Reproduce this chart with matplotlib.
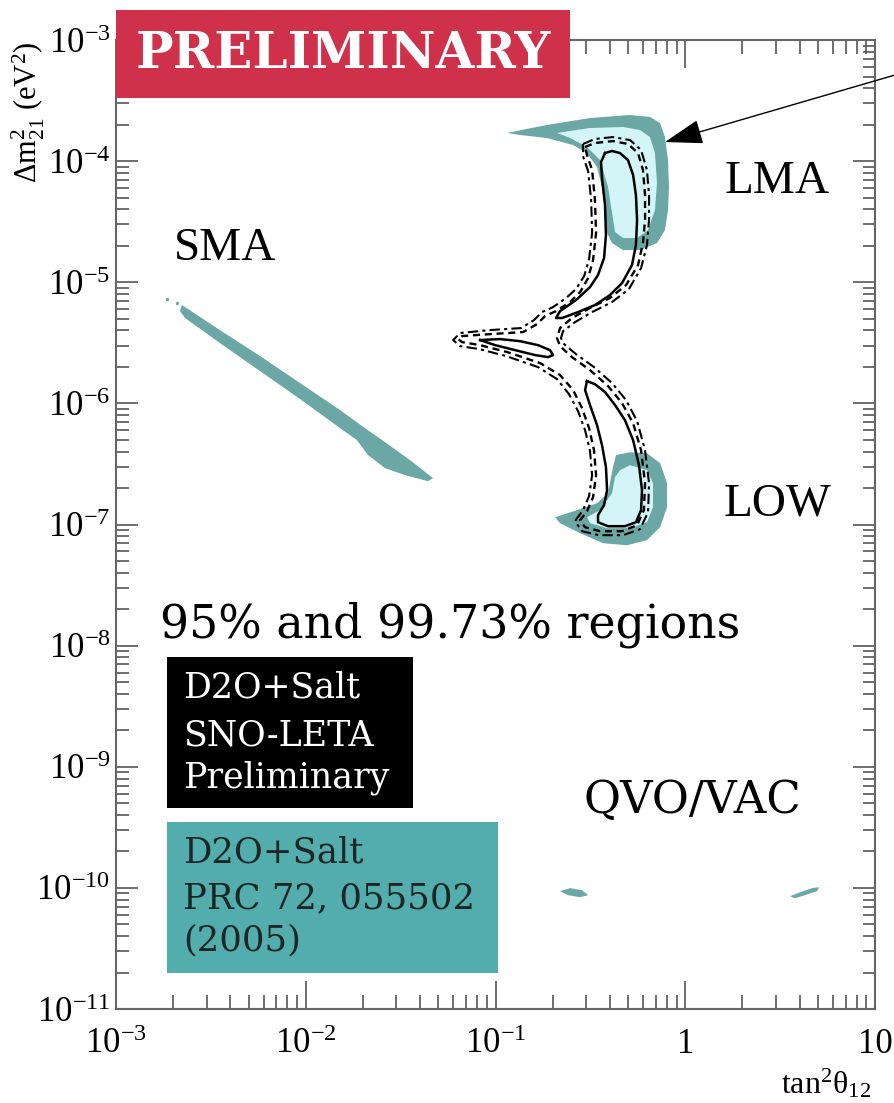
import numpy as np
import matplotlib
matplotlib.use('Agg')
import matplotlib.pyplot as plt
from matplotlib.patches import Rectangle
from matplotlib.ticker import LogLocator, FixedLocator, FixedFormatter, NullFormatter

plt.rcParams['font.family'] = ['Liberation Serif', 'DejaVu Serif']
plt.rcParams['mathtext.fontset'] = 'custom'
plt.rcParams['mathtext.rm'] = 'Liberation Serif'
plt.rcParams['mathtext.it'] = 'Liberation Serif:italic'
plt.rcParams['mathtext.bf'] = 'Liberation Serif:bold'

# axis ticks
x_ticks = [1e-3, 1e-2, 1e-1, 1, 10]
x_ticklabels = [r'$\mathregular{10^{-3}}$', r'$\mathregular{10^{-2}}$', r'$\mathregular{10^{-1}}$', '1', '10']
y_ticks = [1e-11, 1e-10, 1e-9, 1e-8, 1e-7, 1e-6, 1e-5, 1e-4, 1e-3]
y_ticklabels = [r'$\mathregular{10^{-11}}$', r'$\mathregular{10^{-10}}$', r'$\mathregular{10^{-9}}$',
                r'$\mathregular{10^{-8}}$', r'$\mathregular{10^{-7}}$', r'$\mathregular{10^{-6}}$',
                r'$\mathregular{10^{-5}}$', r'$\mathregular{10^{-4}}$', r'$\mathregular{10^{-3}}$']

# allowed regions, (log10 tan^2, log10 dm^2)
# D2O+Salt PRC 72 055502: 99.73% (dark) and 95% (light)
lma_outer = [(-0.939, -3.767), (-0.729, -3.701), (-0.502, -3.644), (-0.291, -3.619), (-0.186, -3.635),
             (-0.133, -3.685), (-0.107, -3.801), (-0.091, -3.991), (-0.086, -4.214), (-0.091, -4.404),
             (-0.107, -4.569), (-0.149, -4.676), (-0.239, -4.734), (-0.328, -4.734), (-0.386, -4.676),
             (-0.412, -4.593), (-0.423, -4.404), (-0.439, -4.214), (-0.465, -4.048), (-0.518, -3.933),
             (-0.591, -3.867), (-0.729, -3.809), (-0.871, -3.784)]
lma_inner = [(-0.676, -3.767), (-0.502, -3.726), (-0.328, -3.718), (-0.239, -3.743), (-0.186, -3.801),
             (-0.160, -3.933), (-0.149, -4.180), (-0.160, -4.404), (-0.196, -4.569), (-0.254, -4.635),
             (-0.328, -4.635), (-0.370, -4.585), (-0.386, -4.428), (-0.407, -4.214), (-0.449, -3.991),
             (-0.518, -3.883), (-0.607, -3.809)]
low_outer = [(-0.686, -6.940), (-0.570, -6.881), (-0.465, -6.824), (-0.407, -6.741), (-0.381, -6.526),
             (-0.365, -6.427), (-0.291, -6.403), (-0.202, -6.411), (-0.133, -6.493), (-0.096, -6.658),
             (-0.096, -6.857), (-0.133, -7.022), (-0.202, -7.129), (-0.307, -7.171), (-0.434, -7.154),
             (-0.554, -7.072), (-0.660, -6.989)]
low_inner = [(-0.344, -6.551), (-0.291, -6.510), (-0.202, -6.551), (-0.170, -6.658), (-0.170, -6.857),
             (-0.202, -6.981), (-0.291, -7.030), (-0.412, -7.030), (-0.502, -6.989), (-0.518, -6.940),
             (-0.449, -6.881), (-0.386, -6.741), (-0.370, -6.609)]
sma_region = [(-2.652, -5.188), (-2.452, -5.395), (-2.241, -5.609), (-2.030, -5.832), (-1.819, -6.055),
              (-1.688, -6.204), (-1.582, -6.320), (-1.451, -6.468), (-1.329, -6.617), (-1.356, -6.642),
              (-1.477, -6.592), (-1.582, -6.534), (-1.672, -6.427), (-1.730, -6.303), (-1.819, -6.204),
              (-2.030, -5.964), (-2.241, -5.733), (-2.452, -5.502), (-2.636, -5.295), (-2.663, -5.238)]
sma_dots = [(-2.731, -5.139), (-2.679, -5.172)]
vac_left = [(-0.660, -10.027), (-0.607, -10.002), (-0.544, -10.019), (-0.512, -10.060), (-0.554, -10.077),
            (-0.618, -10.060)]
vac_right = [(0.552, -10.069), (0.605, -10.036), (0.668, -10.002), (0.705, -9.994), (0.694, -10.027),
             (0.631, -10.060), (0.578, -10.085)]

# SNO-LETA preliminary contours
lma_solid = [(-0.423, -3.933), (-0.386, -3.916), (-0.344, -3.933), (-0.302, -3.991), (-0.275, -4.114),
             (-0.260, -4.280), (-0.254, -4.486), (-0.260, -4.693), (-0.281, -4.858), (-0.333, -5.006),
             (-0.397, -5.106), (-0.476, -5.188), (-0.565, -5.246), (-0.649, -5.295), (-0.681, -5.295),
             (-0.660, -5.238), (-0.576, -5.147), (-0.502, -5.040), (-0.460, -4.940), (-0.428, -4.800),
             (-0.418, -4.610), (-0.423, -4.362), (-0.439, -4.139), (-0.444, -4.007)]
mid_solid = [(-1.081, -5.477), (-0.976, -5.469), (-0.871, -5.486), (-0.776, -5.519), (-0.713, -5.560),
             (-0.697, -5.601), (-0.723, -5.618), (-0.792, -5.601), (-0.897, -5.560), (-1.002, -5.519)]
low_solid = [(-0.518, -5.816), (-0.476, -5.841), (-0.423, -5.906), (-0.370, -6.014), (-0.318, -6.138),
             (-0.275, -6.303), (-0.244, -6.510), (-0.228, -6.716), (-0.233, -6.881), (-0.260, -6.981),
             (-0.318, -7.014), (-0.407, -7.014), (-0.460, -6.981), (-0.460, -6.923), (-0.428, -6.840),
             (-0.412, -6.716), (-0.418, -6.526), (-0.439, -6.344), (-0.465, -6.179), (-0.502, -6.014),
             (-0.528, -5.890)]
outer_dashed = [(-0.528, -3.883), (-0.476, -3.850), (-0.381, -3.834), (-0.302, -3.858), (-0.249, -3.933),
                (-0.223, -4.073), (-0.212, -4.280), (-0.212, -4.486), (-0.223, -4.676), (-0.249, -4.858),
                (-0.312, -5.023), (-0.397, -5.130), (-0.502, -5.213), (-0.597, -5.295), (-0.660, -5.378),
                (-0.676, -5.461), (-0.660, -5.527), (-0.597, -5.618), (-0.502, -5.725), (-0.407, -5.857),
                (-0.333, -5.998), (-0.275, -6.163), (-0.233, -6.386), (-0.212, -6.658), (-0.218, -6.881),
                (-0.254, -7.005), (-0.333, -7.055), (-0.449, -7.055), (-0.528, -7.022), (-0.554, -6.964),
                (-0.518, -6.890), (-0.486, -6.774), (-0.470, -6.592), (-0.481, -6.386), (-0.507, -6.204),
                (-0.544, -6.039), (-0.591, -5.890), (-0.660, -5.766), (-0.765, -5.667), (-0.939, -5.576),
                (-1.081, -5.519), (-1.176, -5.494), (-1.197, -5.469), (-1.176, -5.444), (-1.029, -5.428),
                (-0.855, -5.411), (-0.781, -5.345), (-0.739, -5.279), (-0.681, -5.238), (-0.607, -5.163),
                (-0.554, -5.081), (-0.512, -4.965), (-0.486, -4.816), (-0.470, -4.593), (-0.476, -4.321),
                (-0.491, -4.073), (-0.518, -3.949)]
outer_dashdot = [(-0.539, -3.858), (-0.476, -3.817), (-0.381, -3.801), (-0.291, -3.826), (-0.233, -3.908),
                 (-0.202, -4.073), (-0.191, -4.280), (-0.191, -4.486), (-0.202, -4.693), (-0.233, -4.883),
                 (-0.297, -5.056), (-0.386, -5.163), (-0.491, -5.246), (-0.581, -5.329), (-0.644, -5.403),
                 (-0.655, -5.461), (-0.639, -5.510), (-0.576, -5.593), (-0.481, -5.700), (-0.386, -5.832),
                 (-0.312, -5.973), (-0.254, -6.146), (-0.212, -6.386), (-0.191, -6.658), (-0.196, -6.898),
                 (-0.239, -7.039), (-0.328, -7.088), (-0.455, -7.088), (-0.544, -7.055), (-0.581, -6.972),
                 (-0.539, -6.881), (-0.507, -6.766), (-0.491, -6.592), (-0.502, -6.394), (-0.528, -6.221),
                 (-0.565, -6.064), (-0.613, -5.923), (-0.676, -5.799), (-0.776, -5.700), (-0.944, -5.609),
                 (-1.087, -5.551), (-1.187, -5.527), (-1.223, -5.477), (-1.187, -5.419), (-1.034, -5.395),
                 (-0.865, -5.378), (-0.797, -5.312), (-0.755, -5.246), (-0.697, -5.205), (-0.628, -5.130),
                 (-0.576, -5.056), (-0.533, -4.949), (-0.507, -4.809), (-0.491, -4.593), (-0.496, -4.321),
                 (-0.512, -4.082), (-0.539, -3.958)]

arrow_tip = (-0.107, -3.842)

TEAL_DARK = '#6ba7a5'
TEAL_LIGHT = '#d3f5f7'
BOX_TEAL = '#53adad'
RED = '#cf304a'


def poly(pts, close=False):
    a = np.array(pts)
    if close:
        a = np.vstack([a, a[:1]])
    return 10 ** a[:, 0], 10 ** a[:, 1]


fig = plt.figure(figsize=(8.95, 11.03), dpi=100)
ax = fig.add_axes([0.1296, 0.0852, 0.8481, 0.8785])
ax.set_xscale('log')
ax.set_yscale('log')
ax.set_xlim(1e-3, 10)
ax.set_ylim(1e-11, 1e-3)

# filled regions
for pts in [lma_outer, low_outer, sma_region, vac_left, vac_right]:
    ax.fill(*poly(pts), color=TEAL_DARK, lw=0, zorder=2)
for pts in [lma_inner, low_inner]:
    ax.fill(*poly(pts), color=TEAL_LIGHT, lw=0, zorder=3)
dx, dy = poly(sma_dots)
ax.scatter(dx, dy, s=6, color=TEAL_DARK, lw=0, zorder=2)

# contour lines
for pts in [lma_solid, mid_solid, low_solid]:
    ax.plot(*poly(pts, True), color='black', lw=1.8, zorder=4)
ax.plot(*poly(outer_dashed, True), color='black', lw=1.7, ls=(0, (3, 2)), zorder=4)
ax.plot(*poly(outer_dashdot, True), color='black', lw=1.5, ls=(0, (5, 2, 1.5, 2)), zorder=4)

# ticks
ax.xaxis.set_major_locator(FixedLocator(x_ticks))
ax.xaxis.set_major_formatter(FixedFormatter(x_ticklabels))
ax.yaxis.set_major_locator(FixedLocator(y_ticks))
ax.yaxis.set_major_formatter(FixedFormatter(y_ticklabels))
ax.xaxis.set_minor_locator(LogLocator(base=10, subs=np.arange(2, 10), numticks=100))
ax.yaxis.set_minor_locator(LogLocator(base=10, subs=np.arange(2, 10), numticks=100))
ax.xaxis.set_minor_formatter(NullFormatter())
ax.yaxis.set_minor_formatter(NullFormatter())
ax.tick_params(axis='both', which='both', direction='in', top=True, right=True, color='#555555', width=1.2)
ax.tick_params(axis='x', which='major', length=20, pad=14, labelsize=25)
ax.tick_params(axis='x', which='minor', length=10)
ax.tick_params(axis='y', which='major', length=16, pad=4, labelsize=25)
ax.tick_params(axis='y', which='minor', length=9)
for s in ax.spines.values():
    s.set_color('#666666')
    s.set_linewidth(1.5)

# region names
ax.text(0.1436, 0.773, 'SMA', transform=ax.transAxes, ha='center', va='baseline', fontsize=34)
ax.text(0.871, 0.842, 'LMA', transform=ax.transAxes, ha='center', va='baseline', fontsize=34)
ax.text(0.871, 0.5098, 'LOW', transform=ax.transAxes, ha='center', va='baseline', fontsize=34)
ax.text(0.760, 0.2023, 'QVO/VAC', transform=ax.transAxes, ha='center', va='baseline', fontsize=32.5,
        family='DejaVu Serif')
ax.text(0.058, 0.3839, '95% and 99.73% regions', transform=ax.transAxes, ha='left', va='baseline',
        fontsize=33, family='DejaVu Serif')

# legend boxes
ax.add_patch(Rectangle((0.0672, 0.2074), 0.3241, 0.1559, transform=ax.transAxes, color='black', lw=0, zorder=5))
ax.add_patch(Rectangle((0.0672, 0.0372), 0.4361, 0.1558, transform=ax.transAxes, color=BOX_TEAL, lw=0, zorder=5))
for yb, t in zip([0.3210, 0.2724, 0.2281], ['D2O+Salt', 'SNO-LETA', 'Preliminary']):
    ax.text(0.0883, yb, t, transform=ax.transAxes, color='white', fontsize=25, family='DejaVu Serif',
            va='baseline', zorder=6)
for yb, t in zip([0.1507, 0.1042, 0.0609], ['D2O+Salt', 'PRC 72, 055502', '(2005)']):
    ax.text(0.0883, yb, t, transform=ax.transAxes, color='#1c2626', fontsize=25.5, family='DejaVu Serif',
            va='baseline', zorder=6)

# PRELIMINARY banner
fig.add_artist(Rectangle((0.1296, 0.9112), 0.5073, 0.0798, transform=fig.transFigure, color=RED, lw=0))
fig.text(0.383, 0.9505, 'PRELIMINARY', color='white', fontsize=36, fontweight='bold', family='DejaVu Serif',
         ha='center', va='center')

# arrow
ax.annotate('', xy=(10 ** arrow_tip[0], 10 ** arrow_tip[1]), xycoords='data',
            xytext=(1.0, 0.932), textcoords='figure fraction', annotation_clip=False,
            arrowprops=dict(arrowstyle='-|>,head_length=0.4,head_width=0.13', mutation_scale=60,
                            color='black', lw=1.0, shrinkA=0, shrinkB=0))

# axis labels
fig.text(28 / 895, 1 - 112 / 1103, r'$\Delta\mathregular{m^2_{21}\ (eV^2)}$', rotation=90,
         ha='center', va='center', fontsize=22)
fig.text(826 / 895, 1 - 1084 / 1103, r'$\mathregular{tan^2\theta_{12}}$', ha='center', va='center', fontsize=23)

fig.savefig('out.png', dpi=100)
